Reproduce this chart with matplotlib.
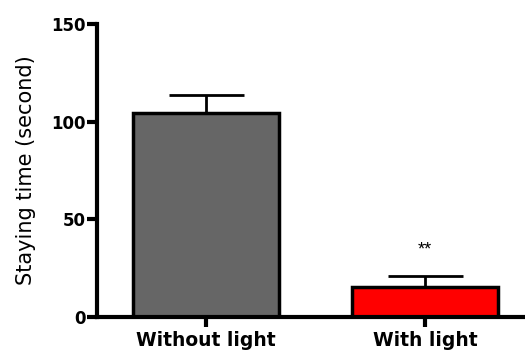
import matplotlib
matplotlib.use("Agg")
import matplotlib.pyplot as plt

# data
groups = ["Without light", "With light"]
means = [104.6, 15.3]
sems = [8.8, 5.6]
bar_colors = ["#666666", "#ff0000"]
stars = ["", "**"]

plt.rcParams["font.family"] = ["DejaVu Sans"]

fig = plt.figure(figsize=(5.25, 3.56), dpi=100)
ax = fig.add_axes([0.185, 0.1096, 0.815, 0.823])

x = list(range(len(groups)))
ax.bar(x, means, width=0.67, color=bar_colors, edgecolor="black",
       linewidth=2.5, zorder=2)
ax.errorbar(x, means, yerr=[[0] * len(sems), sems], fmt="none",
            ecolor="black", elinewidth=2, capsize=27, capthick=2, zorder=1)

for xi, m, s, st in zip(x, means, sems, stars):
    if st:
        ax.text(xi, m + s + 9, st, ha="center", va="bottom", fontsize=13,
                family="Liberation Sans")

ax.set_xlim(-0.498, 1.457)
ax.set_ylim(0, 150)
ax.set_yticks([0, 50, 100, 150])
ax.set_xticks(x)
ax.set_xticklabels(groups, fontsize=13.5, fontweight="bold")
for lab in ax.get_yticklabels():
    lab.set_fontsize(12)
    lab.set_fontweight("bold")
ax.set_ylabel("Staying time (second)", fontsize=15, labelpad=11)

for side in ["top", "right"]:
    ax.spines[side].set_visible(False)
for side in ["left", "bottom"]:
    ax.spines[side].set_linewidth(3)
ax.tick_params(width=3, length=7, direction="out")
ax.tick_params(axis="y", pad=1)
ax.tick_params(axis="x", pad=3)

fig.savefig("out.png", dpi=100)
